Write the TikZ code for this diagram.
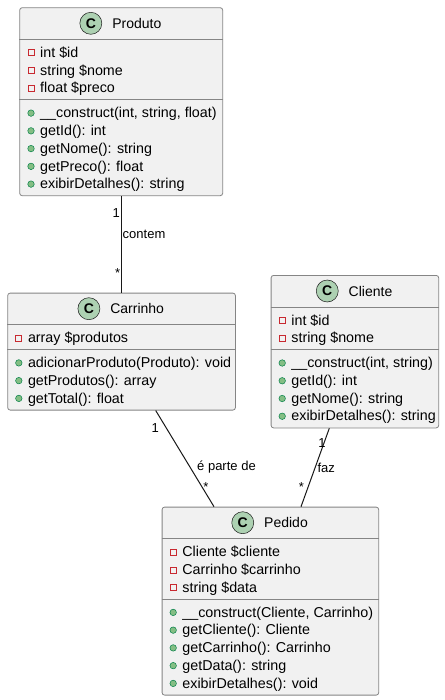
\documentclass[tikz,border=0pt]{standalone}
\usepackage{fontspec}
\setmainfont{Liberation Sans}
\usetikzlibrary{positioning}

\definecolor{boxfill}{HTML}{F1F1F1}
\definecolor{umlline}{HTML}{181818}
\definecolor{boxline}{HTML}{858585}
\definecolor{cfill}{HTML}{ADD1B2}
\definecolor{privred}{HTML}{C82930}
\definecolor{pubfill}{HTML}{84BE84}
\definecolor{publine}{HTML}{038048}

\begin{document}
\begin{tikzpicture}[x=1pt,y=-1pt,
    classbox/.style={draw=boxline, fill=boxfill, line width=0.8pt, rounded corners=2.5pt,
        anchor=north west, inner sep=0pt},
    classname/.style={inner sep=0pt, font=\fontsize{14}{16}\selectfont},
    classc/.style={circle, draw=umlline, fill=cfill, line width=0.5pt, minimum size=22pt,
        inner sep=0pt, font=\fontsize{14}{15}\selectfont\bfseries},
    sep/.style={draw=boxline, line width=0.8pt},
    member/.style={anchor=base west, inner sep=0pt, font=\fontsize{14.3}{16}\selectfont},
    privicon/.style={rectangle, draw=privred, line width=0.8pt, minimum size=6pt, inner sep=0pt},
    pubicon/.style={circle, draw=publine, fill=pubfill, line width=0.5pt, minimum size=6.5pt, inner sep=0pt},
    assoc/.style={draw=umlline, line width=1pt},
    lbl/.style={inner sep=0pt, font=\fontsize{13}{15}\selectfont}]

    \useasboundingbox[fill=white] (0,0) rectangle (444,700);

    % Produto
    \node[classbox, minimum width=203, minimum height=188] (produto) at (19.3,7.3) {};
    \node[classname] (produto-name) at (136.8,23.3) {Produto};
    \node[classc, left=10pt of produto-name] (produto-c) {C};
    \draw[sep] (produto.west |- 0,39.3) -- (produto.east |- 0,39.3);
    \draw[sep] (produto.west |- 0,99.6) -- (produto.east |- 0,99.6);
    \foreach \m [count=\i] in {int \$id, string \$nome, float \$preco} {
        \pgfmathsetmacro{\y}{52.8+17.75*(\i-1)}
        \node[privicon] (produto-ai\i) at (31,\y) {};
        \node[member] (produto-a\i) at (40,\y+4.7) {\m};
    }
    \foreach \m [count=\i] in {{\_\_construct(int, string, float)}, {getId(): int},
            {getNome(): string}, {getPreco(): float}, {exibirDetalhes(): string}} {
        \pgfmathsetmacro{\y}{113.1+17.75*(\i-1)}
        \node[pubicon] (produto-mi\i) at (31,\y) {};
        \node[member] (produto-m\i) at (40,\y+4.7) {\m};
    }

    % Carrinho
    \node[classbox, minimum width=227.7, minimum height=117] (carrinho) at (7.3,292.7) {};
    \node[classname] (carrinho-name) at (137.2,308.7) {Carrinho};
    \node[classc, left=10pt of carrinho-name] (carrinho-c) {C};
    \draw[sep] (carrinho.west |- 0,324.7) -- (carrinho.east |- 0,324.7);
    \draw[sep] (carrinho.west |- 0,349.4) -- (carrinho.east |- 0,349.4);
    \node[privicon] (carrinho-ai1) at (18.8,338.2) {};
    \node[member] (carrinho-a1) at (27.8,342.9) {array \$produtos};
    \foreach \m [count=\i] in {{adicionarProduto(Produto): void}, {getProdutos(): array},
            {getTotal(): float}} {
        \pgfmathsetmacro{\y}{362.9+17.75*(\i-1)}
        \node[pubicon] (carrinho-mi\i) at (18.8,\y) {};
        \node[member] (carrinho-m\i) at (27.8,\y+4.7) {\m};
    }

    % Cliente
    \node[classbox, minimum width=167.6, minimum height=152.5] (cliente) at (270.7,275) {};
    \node[classname] (cliente-name) at (370.5,291) {Cliente};
    \node[classc, left=10pt of cliente-name] (cliente-c) {C};
    \draw[sep] (cliente.west |- 0,307) -- (cliente.east |- 0,307);
    \draw[sep] (cliente.west |- 0,349.5) -- (cliente.east |- 0,349.5);
    \foreach \m [count=\i] in {int \$id, string \$nome} {
        \pgfmathsetmacro{\y}{320.5+17.75*(\i-1)}
        \node[privicon] (cliente-ai\i) at (282.2,\y) {};
        \node[member] (cliente-a\i) at (291.2,\y+4.7) {\m};
    }
    \foreach \m [count=\i] in {{\_\_construct(int, string)}, {getId(): int},
            {getNome(): string}, {exibirDetalhes(): string}} {
        \pgfmathsetmacro{\y}{363+17.75*(\i-1)}
        \node[pubicon] (cliente-mi\i) at (282.2,\y) {};
        \node[member] (cliente-m\i) at (291.2,\y+4.7) {\m};
    }

    % Pedido
    \node[classbox, minimum width=216.6, minimum height=188] (pedido) at (161.7,506.7) {};
    \node[classname] (pedido-name) at (286,522.7) {Pedido};
    \node[classc, left=10pt of pedido-name] (pedido-c) {C};
    \draw[sep] (pedido.west |- 0,538.7) -- (pedido.east |- 0,538.7);
    \draw[sep] (pedido.west |- 0,598.9) -- (pedido.east |- 0,598.9);
    \foreach \m [count=\i] in {Cliente \$cliente, Carrinho \$carrinho, string \$data} {
        \pgfmathsetmacro{\y}{552.2+17.75*(\i-1)}
        \node[privicon] (pedido-ai\i) at (173.2,\y) {};
        \node[member] (pedido-a\i) at (182.2,\y+4.7) {\m};
    }
    \foreach \m [count=\i] in {{\_\_construct(Cliente, Carrinho)}, {getCliente(): Cliente},
            {getCarrinho(): Carrinho}, {getData(): string}, {exibirDetalhes(): void}} {
        \pgfmathsetmacro{\y}{612.4+17.75*(\i-1)}
        \node[pubicon] (pedido-mi\i) at (173.2,\y) {};
        \node[member] (pedido-m\i) at (182.2,\y+4.7) {\m};
    }

    % Associations
    \draw[assoc] (produto.south -| 121.7,0) -- (carrinho.north -| 121.7,0);
    \node[lbl, anchor=east] (contem-from) at (120,212.7) {1};
    \node[lbl, anchor=west] (contem) at (122.5,234.3) {contem};
    \node[lbl, anchor=east] (contem-to) at (120.3,272.7) {*};

    \draw[assoc] (carrinho.south -| 155.7,0) -- (pedido.north -| 214,0);
    \node[lbl] (parte-from) at (155.3,427.7) {1};
    \node[lbl, anchor=west] (parte) at (197,467.5) {é parte de};
    \node[lbl] (parte-to) at (206,486.7) {*};

    \draw[assoc] (cliente.south -| 329.3,0) -- (pedido.north -| 301,0);
    \node[lbl] (faz-from) at (322,443.3) {1};
    \node[lbl, anchor=west] (faz) at (317.3,467.5) {faz};
    \node[lbl] (faz-to) at (301.3,486.7) {*};

\end{tikzpicture}
\end{document}
